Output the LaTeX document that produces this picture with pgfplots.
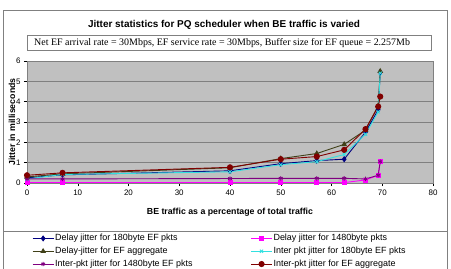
\documentclass[border=0pt]{standalone}
\usepackage{fontspec}
\setmainfont{Liberation Sans}
\newfontfamily\timesf{Liberation Serif}
\usepackage{pgfplots}
\pgfplotsset{compat=1.18}

\definecolor{sNavy}{HTML}{000080}
\definecolor{sMag}{HTML}{FF00FF}
\definecolor{sOlive}{HTML}{404018}
\definecolor{sCyan}{HTML}{33E0E0}
\definecolor{sPurple}{HTML}{800080}
\definecolor{sRed}{HTML}{800000}
\definecolor{plotgray}{HTML}{C0C0C0}
\definecolor{framegray}{HTML}{808080}

\begin{document}
\begin{tikzpicture}
\useasboundingbox (0bp,0bp) rectangle (451bp,269bp);
% outer frame and legend separator
\draw[framegray, line width=0.8bp] (3bp,-2bp) rectangle (447bp,259bp);
\draw[framegray, line width=0.8bp] (3bp,38bp) -- (447bp,38bp);
% titles
\node[font=\fontsize{10}{12}\selectfont\bfseries] at (224bp,244bp) {Jitter statistics for PQ scheduler when BE traffic is varied};
\draw[framegray, line width=0.8bp] (27bp,218.5bp) rectangle (431bp,233.5bp);
\node[anchor=west, inner sep=0pt, font=\timesf\fontsize{10}{12}\selectfont] at (34bp,226bp)
      {Net EF arrival rate = 30Mbps, EF service rate = 30Mbps, Buffer size for EF queue = 2.257Mb};

\begin{axis}[
  at={(27bp,86bp)}, anchor=south west,
  scale only axis, width=406bp, height=122bp,
  xmin=0, xmax=80, ymin=0, ymax=6,
  xtick={0,10,...,80}, ytick={0,1,...,6},
  axis background/.style={fill=plotgray},
  axis line style={framegray, line width=0.8bp},
  ymajorgrids, grid style={framegray, line width=0.5bp},
  tick align=outside, major tick length=3bp,
  tick style={black, line width=0.5bp},
  xtick pos=bottom, ytick pos=left,
  /pgf/number format/assume math mode=true,
  ticklabel style={font=\fontsize{8}{9}\selectfont},
  xlabel={BE traffic as a percentage of total traffic},
  ylabel={Jitter in milliseconds},
  label style={font=\fontsize{8.8}{10}\selectfont\bfseries},
  xlabel style={at={(axis description cs:0.5,0)}, anchor=center, yshift=-29bp},
  ylabel style={at={(axis description cs:-0.037,0.5)}, anchor=center},
  every axis plot/.append style={line width=0.9bp},
  legend columns=2,
  legend cell align=left,
  legend style={at={(axis description cs:0,0)}, anchor=north west, xshift=2bp, yshift=-49bp,
    draw=none, fill=none, font=\fontsize{9}{10}\selectfont,
    row sep=4.3bp, nodes={inner xsep=1bp, inner ysep=0pt, text height=6.5bp, text depth=2bp},
    /tikz/every even column/.append style={column sep=57bp}},
  legend image code/.code={\draw[mark repeat=2,mark phase=2] plot coordinates {(0bp,0bp)(10.5bp,0bp)(21bp,0bp)};},
]
% delay jitter, 180 byte EF packets
\addplot[sNavy, mark=diamond*, mark size=2.4bp] coordinates {
 (0,0.25) (7,0.40) (40,0.60) (50,0.95) (57.1,1.10) (62.5,1.17) (66.7,2.50) (69.2,3.60) (69.6,5.45)};
\addlegendentry{Delay jitter for 180byte EF pkts}
% delay jitter, 1480 byte packets
\addplot[sMag, mark=square*, mark size=2bp] coordinates {
 (0,0.02) (7,0.02) (40,0.02) (50,0.02) (57.1,0.02) (62.5,0.02) (66.7,0.15) (69.2,0.38) (69.6,1.05)};
\addlegendentry{Delay jitter for 1480byte pkts}
% delay jitter, EF aggregate
\addplot[sOlive, mark=triangle*, mark size=2.4bp] coordinates {
 (0,0.30) (7,0.45) (40,0.75) (50,1.20) (57.1,1.45) (62.5,1.90) (66.7,2.60) (69.2,3.80) (69.6,5.50)};
\addlegendentry{Delay-jitter for EF aggregate}
% inter-packet jitter, 180 byte EF packets
\addplot[sCyan, mark=x, mark size=2.2bp] coordinates {
 (0,0.20) (7,0.42) (40,0.55) (50,0.90) (57.1,1.05) (62.5,1.40) (66.7,2.40) (69.2,3.50) (69.6,5.40)};
\addlegendentry{Inter pkt jitter for 180byte EF pkts}
% inter-packet jitter, 1480 byte EF packets
\addplot[sPurple, mark=asterisk, mark size=2.2bp] coordinates {
 (0,0.20) (7,0.20) (40,0.22) (50,0.23) (57.1,0.23) (62.5,0.23) (66.7,0.20) (69.2,0.38) (69.6,1.05)};
\addlegendentry{Inter-pkt jitter for 1480byte EF pkts}
% inter-packet jitter, EF aggregate
\addplot[sRed, mark=*, mark size=2.6bp] coordinates {
 (0,0.38) (7,0.50) (40,0.77) (50,1.17) (57.1,1.30) (62.5,1.63) (66.7,2.65) (69.2,3.76) (69.6,4.25)};
\addlegendentry{Inter-pkt jitter for EF aggregate}
\end{axis}
\end{tikzpicture}
\end{document}
